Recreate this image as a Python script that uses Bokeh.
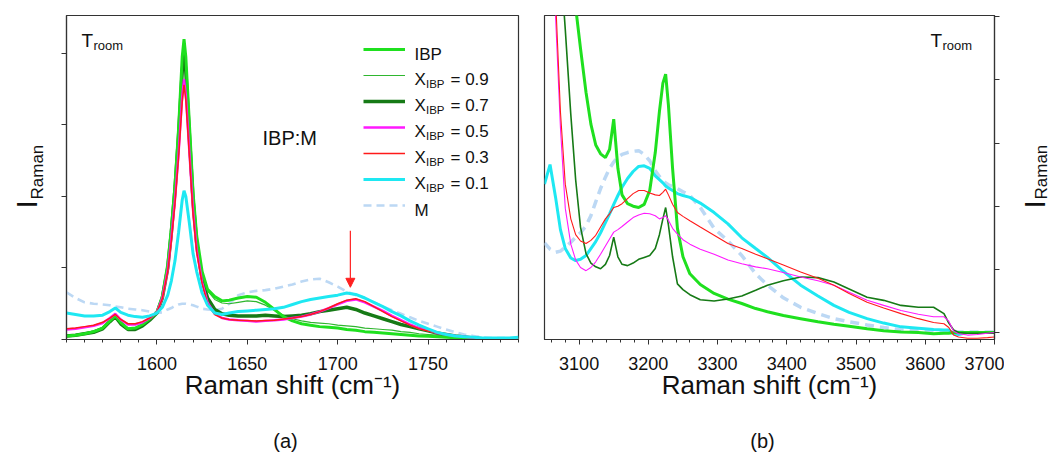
from math import pi
from bokeh.plotting import figure
from bokeh.models import (Range1d, FixedTicker, Label, Arrow, NormalHead, Legend,
                          LegendItem, CustomJSTickFormatter)
from bokeh.core.properties import value
from bokeh.layouts import row, column
from bokeh.embed import file_html
from bokeh.resources import INLINE

FONT = "Liberation Sans"

# ---------------- panel (a): 1550-1800 cm-1 ----------------
shift_a = [1550, 1555, 1560, 1565, 1570, 1574, 1577, 1580, 1584, 1588, 1592, 1596, 1600, 1603, 1606,
           1608, 1610, 1612, 1614, 1615, 1616, 1618, 1620, 1622, 1625, 1628, 1632, 1636, 1640, 1645,
           1650, 1655, 1660, 1665, 1670, 1675, 1680, 1685, 1690, 1695, 1700, 1705, 1710, 1715, 1720,
           1725, 1730, 1735, 1740, 1745, 1750, 1755, 1760, 1765, 1770, 1775, 1780, 1785, 1790, 1795, 1800]
ibp_a = [0.05, 0.06, 0.08, 0.11, 0.16, 0.26, 0.33, 0.24, 0.15, 0.16, 0.21, 0.29, 0.38, 0.60, 1.05,
         1.55, 2.15, 2.95, 3.95, 4.20, 3.95, 3.00, 2.05, 1.45, 0.95, 0.70, 0.60, 0.54, 0.55, 0.58,
         0.60, 0.59, 0.52, 0.42, 0.32, 0.26, 0.22, 0.20, 0.18, 0.17, 0.16, 0.14, 0.13, 0.11, 0.10,
         0.09, 0.08, 0.07, 0.06, 0.05, 0.045, 0.04, 0.03, 0.025, 0.02, 0.015, 0.01, 0.01, 0.005, 0.005, 0.005]
x09_a = [0.06, 0.07, 0.09, 0.12, 0.17, 0.26, 0.32, 0.24, 0.15, 0.16, 0.21, 0.29, 0.38, 0.60, 1.03,
         1.50, 2.10, 2.85, 3.80, 4.08, 3.85, 2.95, 2.00, 1.40, 0.92, 0.68, 0.56, 0.51, 0.50, 0.52,
         0.54, 0.53, 0.48, 0.41, 0.34, 0.29, 0.26, 0.24, 0.23, 0.22, 0.20, 0.19, 0.18, 0.16, 0.15,
         0.14, 0.13, 0.11, 0.10, 0.08, 0.07, 0.06, 0.045, 0.035, 0.025, 0.015, 0.01, 0.01, 0.005, 0.005, 0.005]
x07_a = [0.05, 0.06, 0.08, 0.10, 0.15, 0.25, 0.32, 0.22, 0.14, 0.14, 0.19, 0.27, 0.37, 0.58, 1.00,
         1.50, 2.10, 2.85, 3.75, 4.00, 3.75, 2.85, 1.95, 1.35, 0.85, 0.58, 0.42, 0.36, 0.34, 0.33,
         0.33, 0.33, 0.34, 0.33, 0.32, 0.33, 0.34, 0.36, 0.39, 0.41, 0.43, 0.45, 0.42, 0.37, 0.33,
         0.29, 0.25, 0.21, 0.18, 0.15, 0.12, 0.09, 0.07, 0.05, 0.035, 0.02, 0.01, 0.005, 0.005, 0.0, 0.0]
x05_a = [0.14, 0.15, 0.17, 0.19, 0.23, 0.30, 0.36, 0.28, 0.21, 0.21, 0.24, 0.30, 0.38, 0.58, 0.97,
         1.42, 1.95, 2.60, 3.40, 3.64, 3.42, 2.60, 1.80, 1.25, 0.80, 0.52, 0.36, 0.30, 0.28, 0.27,
         0.26, 0.25, 0.26, 0.27, 0.28, 0.30, 0.32, 0.35, 0.39, 0.44, 0.49, 0.54, 0.56, 0.52, 0.46,
         0.40, 0.33, 0.27, 0.21, 0.16, 0.13, 0.09, 0.07, 0.05, 0.04, 0.025, 0.015, 0.01, 0.005, 0.0, 0.0]
x03_a = [0.15, 0.16, 0.18, 0.20, 0.24, 0.30, 0.35, 0.28, 0.22, 0.22, 0.25, 0.30, 0.38, 0.57, 0.95,
         1.38, 1.90, 2.55, 3.32, 3.56, 3.35, 2.55, 1.75, 1.22, 0.78, 0.50, 0.35, 0.30, 0.28, 0.27,
         0.265, 0.26, 0.265, 0.27, 0.285, 0.30, 0.32, 0.35, 0.39, 0.44, 0.50, 0.55, 0.57, 0.53, 0.46,
         0.39, 0.32, 0.26, 0.20, 0.15, 0.12, 0.09, 0.065, 0.045, 0.03, 0.02, 0.01, 0.005, 0.0, 0.0, 0.0]
x01_a = [0.37, 0.35, 0.33, 0.33, 0.34, 0.39, 0.44, 0.38, 0.34, 0.32, 0.31, 0.33, 0.37, 0.45, 0.62,
         0.82, 1.10, 1.50, 1.95, 2.08, 2.00, 1.62, 1.20, 0.95, 0.65, 0.48, 0.37, 0.35, 0.37, 0.39,
         0.40, 0.41, 0.42, 0.43, 0.45, 0.49, 0.53, 0.56, 0.58, 0.60, 0.62, 0.65, 0.63, 0.58, 0.52,
         0.46, 0.39, 0.33, 0.26, 0.20, 0.15, 0.10, 0.07, 0.05, 0.04, 0.03, 0.02, 0.02, 0.02, 0.02, 0.03]
m_a = [0.66, 0.58, 0.52, 0.50, 0.49, 0.48, 0.46, 0.45, 0.43, 0.42, 0.41, 0.39, 0.37, 0.38, 0.42,
       0.44, 0.47, 0.49, 0.50, 0.50, 0.50, 0.49, 0.48, 0.46, 0.43, 0.42, 0.41, 0.43, 0.50, 0.62,
       0.66, 0.68, 0.69, 0.71, 0.74, 0.77, 0.81, 0.84, 0.85, 0.80, 0.74, 0.67, 0.62, 0.58, 0.52,
       0.46, 0.41, 0.36, 0.31, 0.26, 0.22, 0.18, 0.14, 0.10, 0.07, 0.05, 0.03, 0.02, 0.02, 0.02, 0.02]

# ---------------- panel (b): 3050-3700 cm-1 ----------------
shift_b = [3050, 3058, 3066, 3073, 3080, 3088, 3095, 3102, 3110, 3117, 3124, 3131, 3138, 3144, 3150,
           3156, 3162, 3170, 3178, 3186, 3194, 3202, 3210, 3216, 3221, 3225, 3229, 3235, 3242, 3250,
           3260, 3275, 3295, 3315, 3335, 3355, 3372, 3395, 3420, 3445, 3468, 3490, 3516, 3540, 3565,
           3590, 3612, 3627, 3634, 3641, 3648, 3661, 3675, 3690, 3700]
ibp_b = [9.0, 8.6, 8.1, 7.5, 6.8, 6.0, 5.15, 4.5, 3.8, 3.3, 2.97, 2.83, 2.77, 2.9, 3.38,
         2.6, 2.18, 2.04, 2.0, 1.98, 2.03, 2.25, 2.85, 3.5, 3.95, 4.09, 3.6, 2.6, 1.65, 1.2,
         0.93, 0.76, 0.62, 0.53, 0.46, 0.38, 0.33, 0.27, 0.22, 0.17, 0.13, 0.10, 0.06, 0.03, 0.01,
         0.0, -0.02, -0.01, -0.01, 0.0, 0.0, 0.0, 0.0, 0.0, 0.0]
x07_b = [9.0, 8.0, 7.0, 5.9, 4.8, 3.45, 2.42, 1.67, 1.25, 1.1, 1.04, 1.01, 1.08, 1.22, 1.51,
         1.2, 1.08, 1.06, 1.1, 1.16, 1.19, 1.22, 1.33, 1.55, 1.8, 1.98, 1.7, 1.2, 0.77, 0.68,
         0.6, 0.52, 0.5, 0.53, 0.58, 0.67, 0.75, 0.82, 0.88, 0.87, 0.8, 0.69, 0.56, 0.51, 0.43,
         0.4, 0.4, 0.3, 0.15, 0.04, 0.0, -0.01, -0.01, -0.01, -0.01]
x05_b = [9.0, 8.0, 5.0, 3.25, 1.97, 1.4, 1.15, 1.03, 0.98, 1.03, 1.12, 1.24, 1.37, 1.48, 1.59,
         1.63, 1.68, 1.75, 1.82, 1.86, 1.89, 1.88, 1.85, 1.8, 1.82, 1.85, 1.78, 1.65, 1.56, 1.47,
         1.4, 1.32, 1.24, 1.15, 1.09, 1.04, 1.01, 0.95, 0.88, 0.82, 0.75, 0.64, 0.51, 0.43, 0.35,
         0.29, 0.25, 0.25, 0.18, 0.02, -0.02, -0.04, -0.03, -0.01, 0.0]
x03_b = [9.0, 8.0, 5.3, 3.5, 2.35, 1.8, 1.55, 1.45, 1.41, 1.46, 1.54, 1.67, 1.8, 1.88, 1.98,
         2.0, 2.04, 2.12, 2.2, 2.25, 2.25, 2.21, 2.18, 2.17, 2.22, 2.27, 2.18, 2.03, 1.9, 1.84,
         1.77, 1.67, 1.54, 1.41, 1.33, 1.24, 1.17, 1.07, 0.96, 0.86, 0.75, 0.62, 0.48, 0.39, 0.3,
         0.22, 0.16, 0.14, 0.08, -0.04, -0.07, -0.09, -0.09, -0.08, -0.07]
x01_b = [2.35, 2.66, 2.14, 1.63, 1.33, 1.18, 1.14, 1.16, 1.22, 1.33, 1.44, 1.58, 1.74, 1.88, 2.03,
         2.17, 2.3, 2.44, 2.55, 2.63, 2.64, 2.6, 2.48, 2.42, 2.37, 2.32, 2.29, 2.25, 2.2, 2.17,
         2.14, 2.05, 1.9, 1.72, 1.5, 1.33, 1.19, 0.97, 0.75, 0.58, 0.43, 0.32, 0.22, 0.15, 0.09,
         0.07, 0.05, 0.04, 0.04, -0.02, -0.03, 0.0, 0.0, 0.0, 0.0]
m_b = [1.42, 1.32, 1.27, 1.29, 1.35, 1.43, 1.51, 1.58, 1.69, 1.85, 2.07, 2.28, 2.46, 2.6, 2.7,
       2.78, 2.82, 2.85, 2.87, 2.88, 2.82, 2.72, 2.56, 2.47, 2.41, 2.37, 2.34, 2.31, 2.28, 2.23,
       2.17, 1.98, 1.65, 1.45, 1.22, 0.93, 0.75, 0.55, 0.4, 0.3, 0.22, 0.17, 0.12, 0.08, 0.04,
       0.03, 0.03, 0.02, 0.02, 0.02, 0.01, 0.01, 0.01, 0.01, 0.01]

ticks_a = [1600, 1650, 1700, 1750]
ticks_b = [3100, 3200, 3300, 3400, 3500, 3600, 3700]
legend_labels = ["IBP", "0.9", "0.7", "0.5", "0.3", "0.1", "M"]

C_IBP, C_09, C_07 = "#1fe01f", "#2fb62f", "#167a16"
C_05, C_03, C_01, C_M = "#ff19ff", "#ff1a1a", "#1ee8f2", "#bcd8f4"

ROW_H = 424   # height of the row holding the two panels
FB = 339      # page y of the frames' bottom edge
TOP = 15      # page y of the frames' top edge


def style(p):
    p.grid.visible = False
    p.outline_line_color = "#333333"
    p.outline_line_width = 1.2
    for ax in p.axis:
        ax.axis_line_color = "#333333"
        ax.axis_line_width = 1.2
        ax.major_tick_line_color = "#333333"
        ax.minor_tick_line_color = "#333333"
        ax.major_tick_in = 0
        ax.major_tick_out = 5
        ax.minor_tick_in = 0
        ax.minor_tick_out = 3
        ax.major_label_text_font = FONT
        ax.major_label_text_font_size = "18px"
        ax.major_label_text_color = "#111111"
        ax.major_label_standoff = 12
        ax.axis_label_text_font = FONT
        ax.axis_label_text_font_size = "26px"
        ax.axis_label_text_font_style = "normal"
        ax.axis_label_text_color = "#111111"
        ax.axis_label_standoff = -3


def lab(p, fleft, fbottom, px, py, text, size, align="left", baseline="alphabetic"):
    p.add_layout(Label(x=px - fleft, y=fbottom - py, x_units="screen", y_units="screen", text=text,
                       text_font=FONT, text_font_size=f"{size}px", text_align=align,
                       text_baseline=baseline, text_color="#111111"))


def side(x0, x1):
    """Narrow, axis-less figure whose frame coordinates equal page pixels."""
    f = figure(width=x1 - x0, height=ROW_H, x_range=Range1d(x0, x1), y_range=Range1d(FB, TOP),
               x_axis_location=None, y_axis_location=None, output_backend="svg",
               toolbar_location=None, min_border_left=0, min_border_right=0,
               min_border_top=TOP, min_border_bottom=ROW_H - FB)
    f.grid.visible = False
    f.outline_line_color = None
    return f


def vtext(f, x, y, text, size):
    f.text(x=[x], y=[y], text=[text], angle=pi / 2, text_font=value(FONT),
           text_font_size=value(f"{size}px"), text_align="left", text_baseline="alphabetic",
           text_color="#111111")


# ================= figure (a) =================
XA0 = 48          # page x where the figure starts
LA = 66           # page x of frame left
pa = figure(width=530 - XA0, height=ROW_H, x_range=Range1d(1550, 1800), y_range=Range1d(0, 4.53),
            output_backend="svg", toolbar_location=None,
            min_border_left=LA - XA0, min_border_right=12, min_border_top=TOP,
            min_border_bottom=ROW_H - FB)
style(pa)
pa.xaxis.ticker = FixedTicker(ticks=ticks_a, minor_ticks=list(range(1550, 1801, 10)))
pa.yaxis.ticker = FixedTicker(ticks=[0, 1, 2, 3, 4])
pa.yaxis.formatter = CustomJSTickFormatter(code="return ''")
pa.yaxis.major_label_standoff = 0
pa.xaxis.axis_label = "Raman shift (cm\u207b\u00b9)"

rm = pa.line(shift_a, m_a, line_color=C_M, line_width=2.6, line_dash="8 5")
r09 = pa.line(shift_a, x09_a, line_color=C_09, line_width=1.2)
r07 = pa.line(shift_a, x07_a, line_color=C_07, line_width=3.5)
rib = pa.line(shift_a, ibp_a, line_color=C_IBP, line_width=3)
r05 = pa.line(shift_a, x05_a, line_color=C_05, line_width=2.4)
r03 = pa.line(shift_a, x03_a, line_color=C_03, line_width=1.5)
r01 = pa.line(shift_a, x01_a, line_color=C_01, line_width=3)

leg_r = [rib, r09, r07, r05, r03, r01, rm]
legend = Legend(items=[LegendItem(label=" ", renderers=[r]) for r in leg_r],
                location=(297, 122), glyph_width=42, glyph_height=24, label_height=24,
                label_width=0, label_standoff=0, spacing=2, padding=0, margin=0,
                border_line_alpha=0, background_fill_alpha=0, label_text_font_size="8px")
pa.add_layout(legend)

row_py = [36 + 12 + 26 * i for i in range(7)]
for i, name in enumerate(legend_labels):
    y = row_py[i]
    if name in ("IBP", "M"):
        lab(pa, LA, FB, 414, y + 6, name, 17)
    else:
        lab(pa, LA, FB, 414, y + 5, "X", 17)
        lab(pa, LA, FB, 425.5, y + 9, "IBP", 11.5)
        lab(pa, LA, FB, 450, y + 5, "= " + name, 17)

lab(pa, LA, FB, 81, 40, "T", 19)
lab(pa, LA, FB, 93, 45, "room", 13)
lab(pa, LA, FB, 262, 137, "IBP:M", 20)

pa.add_layout(Arrow(end=NormalHead(size=9, fill_color="#ff2020", line_color="#ff2020"),
                    x_start=1707, y_start=1.52, x_end=1707, y_end=0.73,
                    line_color="#ff2020", line_width=1.2))

# ================= figure (b) =================
XB0 = 530
LB = 544
XB1 = 1004        # page x where figure (b) ends
pb = figure(width=XB1 - XB0, height=ROW_H, x_range=Range1d(3050, 3700), y_range=Range1d(-0.11, 5.02),
            y_axis_location="right", output_backend="svg", toolbar_location=None,
            min_border_left=LB - XB0, min_border_right=XB1 - 994, min_border_top=TOP,
            min_border_bottom=ROW_H - FB)
style(pb)
pb.xaxis.ticker = FixedTicker(ticks=ticks_b, minor_ticks=list(range(3060, 3701, 20)))
pb.yaxis.ticker = FixedTicker(ticks=[0, 1, 2, 3, 4, 5])
pb.yaxis.formatter = CustomJSTickFormatter(code="return ''")
pb.yaxis.major_label_standoff = 0
pb.xaxis.axis_label = "Raman shift (cm\u207b\u00b9)"

pb.line(shift_b, m_b, line_color=C_M, line_width=3.5, line_dash="9 6")
pb.line(shift_b, x01_b, line_color=C_01, line_width=3)
pb.line(shift_b, ibp_b, line_color=C_IBP, line_width=3)
pb.line(shift_b, x07_b, line_color=C_07, line_width=1.6)
pb.line(shift_b, x05_b, line_color=C_05, line_width=1.1)
pb.line(shift_b, x03_b, line_color=C_03, line_width=1.1)

lab(pb, LB, FB, 930, 40, "T", 19)
lab(pb, LB, FB, 942, 45, "room", 13)

# ================= margins holding the outer texts =================
left_m = side(0, XA0)
vtext(left_m, 26, 208, "I", 30)
vtext(left_m, 37, 199, "Raman", 17)

right_m = side(XB1, 1051)
vtext(right_m, 1034, 208, "I", 30)
vtext(right_m, 1040.5, 199, "Raman", 17)

BH = 459 - ROW_H
bottom_m = figure(width=1051, height=BH, x_range=Range1d(0, 1), y_range=Range1d(0, 1),
                  x_axis_location=None, y_axis_location=None, output_backend="svg",
                  toolbar_location=None, min_border=0)
bottom_m.grid.visible = False
bottom_m.outline_line_color = None
lab(bottom_m, 0, BH, 285, 440 - ROW_H, "(a)", 20, align="center")
lab(bottom_m, 0, BH, 762, 440 - ROW_H, "(b)", 20, align="center")

layout = column(row(left_m, pa, pb, right_m), bottom_m)
open("out.html", "w").write(file_html(layout, INLINE))
